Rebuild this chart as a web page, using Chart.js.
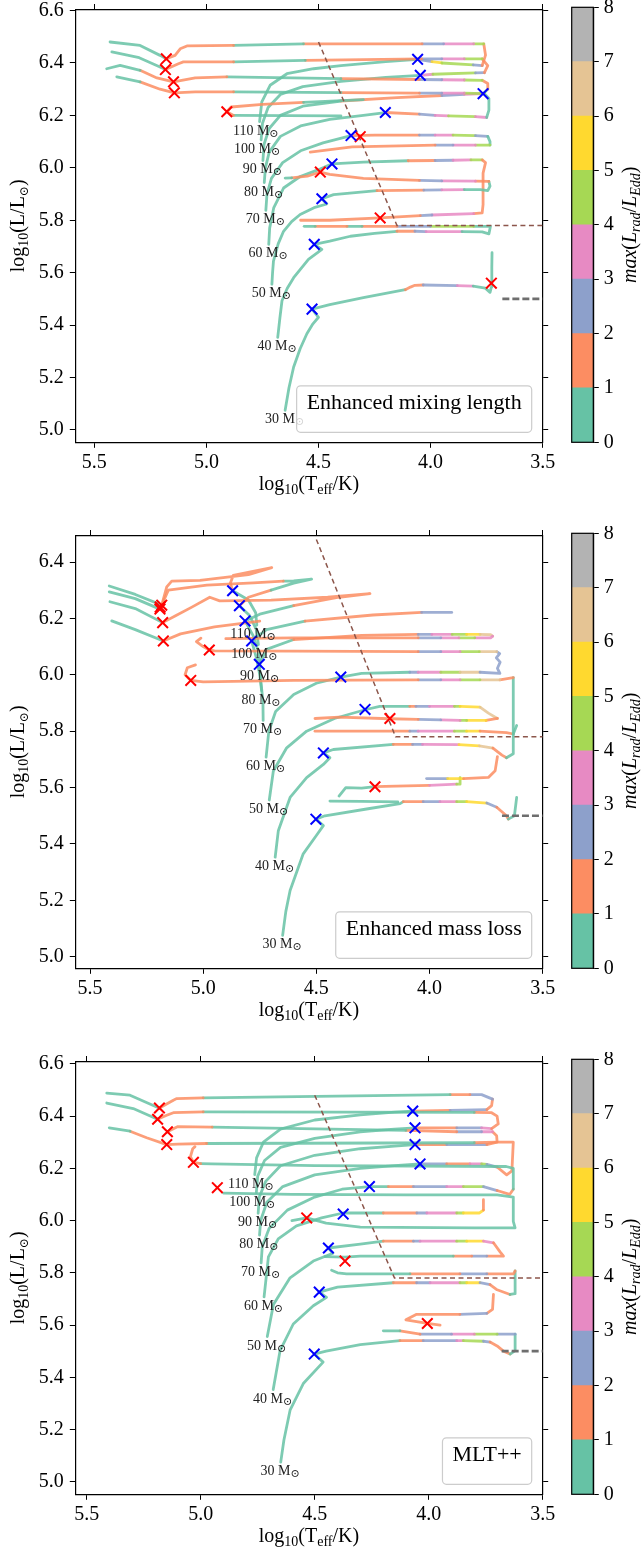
<!DOCTYPE html>
<html>
<head>
<meta charset="utf-8">
<script src="https://cdn.jsdelivr.net/npm/chart.js@4.4.1/dist/chart.umd.min.js"></script>
<style>
  body { margin: 0; background: #fff; }
  #wrap { position: relative; width: 641px; height: 1555px; }
  canvas { position: absolute; }
</style>
</head>
<body>
<div id="wrap"></div>
<script>
"use strict";

// ---- data -------------------------------------------------------------
var masses = [30, 40, 50, 60, 70, 80, 90, 100, 110];
var xTicks = [5.5, 5.0, 4.5, 4.0, 3.5];
var yTicksA = [5.0, 5.2, 5.4, 5.6, 5.8, 6.0, 6.2, 6.4, 6.6];
var yTicksB = [5.0, 5.2, 5.4, 5.6, 5.8, 6.0, 6.2, 6.4];
var cbTicks = [0, 1, 2, 3, 4, 5, 6, 7, 8];

// Humphreys-Davidson limit and the end marker
var hdTeff = [4.5, 4.15, 3.5];
var hdL = [6.48, 5.78, 5.78];
var endTeff = [3.68, 3.5];
var endL = [5.5, 5.5];

// tracks: [log Teff, log L, colour band of next segment], null = gap
// -- enhanced mixing length
var mix30 = [[4.649,5.075,0],[4.632,5.16,0],[4.611,5.24,0],[4.582,5.31,0],[4.552,5.367,0],[4.525,5.405,0],[4.5,5.43,0],[4.529,5.461,0],
  [4.45,5.478,0],[4.3,5.505,0],[4.113,5.535,1],[4.09,5.545,1],[4.07,5.552,1],[4.033,5.553,2],[3.881,5.551,3],[3.81,5.549,0],
  [3.756,5.541,0],[3.735,5.525,0],[3.729,5.545,0],[3.727,5.62,0],[3.726,5.676,0]];
var mix40 = [[4.682,5.353,0],[4.672,5.43,0],[4.663,5.493,0],[4.64,5.54,0],[4.611,5.581,0],[4.545,5.651,0],[4.485,5.689,0],[4.519,5.708,0],
  [4.45,5.72,0],[4.358,5.739,0],[4.25,5.75,0],[4.15,5.758,1],[4.07,5.758,2],[4.02,5.757,3],[3.86,5.757,0],[3.77,5.756,0],
  [3.74,5.748,0],[3.733,5.777,0],[3.808,5.777,4],[4.001,5.777,2],[4.15,5.777,1],[4.306,5.777,0],[4.373,5.777,1],[4.515,5.777,0],[4.564,5.777,0]];
var mix50 = [[4.708,5.556,0],[4.705,5.6,0],[4.701,5.644,0],[4.68,5.71,0],[4.656,5.758,0],[4.62,5.795,0],[4.582,5.822,0],[4.52,5.848,0],[4.463,5.862,0],[4.485,5.882,0],
  [4.433,5.898,0],[4.239,5.913,1],[4.03,5.915,2],[3.95,5.916,3],[3.85,5.917,0],[3.778,5.917,0],[3.745,5.913,0],[3.735,5.93,0],[3.74,5.948,1],
  [3.8,5.949,3],[3.95,5.95,2],[4.05,5.952,1],[4.3,5.96,1],[4.45,5.975,1],[4.492,5.984,1],[4.55,5.968,1],[4.62,5.962,0],[4.649,5.961,0]];
var mix60 = [[4.722,5.708,0],[4.718,5.77,0],[4.7,5.847,0],[4.656,5.923,0],[4.582,5.967,0],[4.5,5.993,0],[4.44,6.015,0],
  [4.3,6.022,0],[4.1,6.027,1],[3.98,6.028,2],[3.9,6.029,3],[3.82,6.03,4],[3.77,6.03,1],[3.755,6.02,1],[3.766,5.98,1],[3.766,5.86,1],[3.77,5.828,1],
  [3.808,5.825,3],[3.994,5.82,2],[4.046,5.818,1],[4.225,5.809,1],[4.45,5.8,1],[4.58,5.8,0]];
var mix70 = [[4.735,5.838,0],[4.73,5.9,0],[4.71,5.96,0],[4.66,6.02,0],[4.58,6.065,0],[4.48,6.095,0],[4.355,6.123,1],
  [4.25,6.125,1],[4.05,6.125,2],[3.98,6.125,3],[3.9,6.125,4],[3.8,6.123,2],[3.745,6.12,0],[3.735,6.1,0],[3.735,6.087,4],
  [3.8,6.087,3],[3.9,6.087,2],[3.98,6.087,1],[4.35,6.08,1],[4.537,6.06,1],
  null,
  [4.4,6.198,0],[4.879,6.2,1],[4.909,6.214,1],[4.89,6.232,1],[4.75,6.242,1],[4.567,6.25,0],[4.3,6.26,0]];
var mix80 = [[4.742,5.944,0],[4.737,6.0,0],[4.72,6.06,0],[4.67,6.12,0],[4.58,6.16,0],[4.45,6.185,0],[4.3,6.2,0],[4.202,6.211,1],
  [4.05,6.205,2],[3.98,6.2,3],[3.92,6.198,4],[3.8,6.195,3],[3.75,6.192,0],[3.74,6.22,0],[3.74,6.265,0],[3.76,6.283,4],
  [3.85,6.285,3],[3.95,6.285,2],[4.05,6.285,1],[4.4,6.287,0],[4.879,6.29,1],[5.05,6.29,1],[5.143,6.286,1],[5.207,6.3,1],[5.296,6.328,0],[5.4,6.347,0]];
var mix90 = [[4.748,6.028,0],[4.743,6.09,0],[4.72,6.15,0],[4.67,6.2,0],[4.57,6.235,0],[4.4,6.255,1],[4.15,6.268,1],[3.95,6.276,2],[3.85,6.28,3],[3.766,6.283,0],
  [3.745,6.3,1],[3.745,6.322,1],[3.77,6.334,4],[3.85,6.335,3],[3.95,6.336,2],[4.05,6.337,1],[4.4,6.34,0],[4.909,6.347,1],[5.05,6.343,1],[5.147,6.328,1],[5.221,6.343,1],[5.296,6.372,0],[5.385,6.391,0],[5.445,6.378,0]];
var mix100 = [[4.756,6.107,0],[4.75,6.17,0],[4.725,6.23,0],[4.67,6.28,0],[4.57,6.31,0],[4.4,6.33,0],[4.2,6.345,0],[4.046,6.353,3],
  [3.99,6.357,4],[3.8,6.362,2],[3.76,6.363,1],[3.745,6.39,1],[3.77,6.416,4],[3.85,6.416,3],[3.95,6.416,2],[4.04,6.416,1],[4.559,6.41,0],[4.879,6.404,1],[5.103,6.404,1],[5.125,6.397,1],[5.183,6.375,0],[5.207,6.385,0],[5.3,6.42,0],[5.422,6.442,0]];
var mix110 = [[4.763,6.176,0],[4.753,6.252,0],[4.716,6.315,0],[4.641,6.359,0],[4.522,6.378,0],[4.4,6.39,0],[4.2,6.405,0],[4.058,6.414,2],
  [3.994,6.405,5],[3.95,6.4,4],[3.81,6.393,2],[3.77,6.39,1],[3.755,6.43,1],[3.763,6.473,4],[3.808,6.473,3],[3.942,6.473,2],[4.038,6.473,1],[4.567,6.473,0],[4.879,6.467,1],[5.087,6.465,1],[5.117,6.454,1],[5.14,6.429,1],[5.179,6.416,0],[5.207,6.429,0],[5.296,6.467,0],[5.43,6.48,0]];
var mixBlueT = [4.529, 4.519, 4.485, 4.440, 4.355, 4.202, 3.766, 4.046, 4.058];
var mixBlueL = [5.461, 5.708, 5.882, 6.015, 6.123, 6.211, 6.283, 6.353, 6.414];
var mixRedT = [3.729, 4.225, 4.492, 4.314, 4.909, 5.143, 5.147, 5.183, 5.179];
var mixRedL = [5.56, 5.809, 5.984, 6.119, 6.214, 6.286, 6.328, 6.375, 6.416];

// -- enhanced mass loss
var loss30 = [[4.649,5.076,0],[4.635,5.16,0],[4.616,5.235,0],[4.558,5.365,0],[4.5,5.43,0],[4.469,5.465,0],[4.502,5.488,0],
  [4.462,5.5,0],[4.278,5.524,0],[4.13,5.543,0],[4.116,5.55,1],[4.028,5.55,2],[3.954,5.55,3],[3.88,5.55,4],[3.836,5.55,5],[3.747,5.545,2],[3.703,5.53,1],[3.66,5.5,1],[3.652,5.488,0],[3.625,5.5,0],[3.615,5.565,0],
  null,
  [4.44,5.552,0],[4.3,5.551,0],[4.14,5.549,0],
  null,
  [4.4,5.57,0],[4.37,5.6,0],[4.3,5.598,0],[4.241,5.603,1],[4.1,5.606,1],[4.0,5.608,3],[3.88,5.612,4],[3.865,5.612,4],[3.865,5.635,2],
  null,
  [4.013,5.632,2],[3.92,5.632,5],[3.85,5.632,1],[3.74,5.636,1],[3.71,5.66,1],[3.7,5.71,1]];
var loss40 = [[4.682,5.353,0],[4.668,5.447,0],[4.616,5.565,0],[4.543,5.635,0],[4.469,5.682,0],[4.44,5.706,0],[4.469,5.723,0],
  [4.425,5.735,0],[4.16,5.753,1],[4.075,5.753,2],[4.031,5.753,3],[3.87,5.752,5],[3.78,5.748,6],[3.72,5.74,1],[3.68,5.715,1],[3.66,5.706,0],[3.63,5.72,0],[3.63,5.99,1],
  [3.689,5.982,6],[3.777,5.982,4],[3.865,5.982,3],[3.95,5.982,2],[4.05,5.982,1],[4.6,5.98,1],[5.0,5.975,1],[5.055,5.98,1],[5.08,6.0,1],[5.07,6.025,1],[5.034,6.035,1]];
var loss50 = [[4.708,5.556,0],[4.69,5.659,0],[4.631,5.741,0],[4.543,5.8,0],[4.42,5.845,0],[4.285,5.876,0],
  [4.22,5.888,0],[4.087,5.888,1],[4.06,5.888,2],[4.0,5.888,3],[3.89,5.888,4],[3.865,5.888,5],[3.777,5.885,6],[3.74,5.864,6],[3.7,5.845,1],
  [3.75,5.838,5],[3.836,5.838,4],[3.865,5.838,3],[3.95,5.84,2],[4.05,5.842,1],[4.175,5.844,1],[4.4,5.85,1],[4.506,5.845,1],
  null,
  [4.506,5.8,1],[4.087,5.8,2],[4.05,5.8,3],[3.89,5.8,4],[3.836,5.8,5],[3.777,5.8,1],[3.66,5.795,1],[3.63,5.79,0],[3.615,5.82,0]];
var loss60 = [[4.722,5.708,0],[4.71,5.8,0],[4.68,5.87,0],[4.6,5.93,0],[4.5,5.97,0],[4.392,5.992,0],
  [4.3,6.005,0],[4.087,6.009,2],[4.05,6.009,3],[3.95,6.009,4],[3.865,6.009,6],[3.777,6.009,2],[3.689,6.005,2],[3.7,6.023,2],[3.688,6.045,2],[3.705,6.06,2],[3.69,6.075,2],[3.703,6.082,6],
  [3.78,6.082,4],[3.865,6.082,3],[3.95,6.082,2],[4.05,6.082,1],[4.6,6.084,1],[4.95,6.085,1],[4.973,6.088,1],[5.0,6.1,1],[5.03,6.118,1],[5.01,6.13,1]];
var loss70 = [[4.735,5.838,0],[4.736,5.906,0],[4.745,5.976,0],[4.752,6.037,0],
  [4.72,6.09,0],[4.6,6.125,1],[4.3,6.14,1],[4.05,6.143,2],[3.99,6.143,3],[3.9,6.143,4],[3.836,6.143,5],[3.777,6.143,6],[3.73,6.142,6],[3.721,6.137,3],
  [3.73,6.131,3],[3.8,6.131,4],[3.87,6.131,3],[3.95,6.131,2],[4.05,6.131,1],[4.6,6.131,1],[4.9,6.128,1]];
var loss80 = [[4.742,5.944,0],[4.75,6.0,0],[4.765,6.06,0],[4.786,6.12,0],
  [4.72,6.16,0],[4.55,6.19,1],[4.25,6.212,1],[4.035,6.221,2],[3.902,6.221,2],
  null,
  [4.75,6.19,1],[4.95,6.17,1],[5.1,6.145,1],[5.176,6.12,0],[5.3,6.16,0],[5.404,6.191,0]];
var loss90 = [[4.748,6.028,0],[4.755,6.08,0],[4.78,6.14,0],[4.815,6.191,0],
  [4.75,6.215,0],[4.6,6.245,1],[4.4,6.275,1],[4.263,6.288,1],[4.45,6.275,1],[4.7,6.265,1],[4.927,6.262,1],[4.971,6.275,1],[5.05,6.24,1],[5.12,6.21,1],[5.179,6.185,0],[5.3,6.235,0],[5.412,6.259,0]];
var loss100 = [[4.756,6.107,0],[4.765,6.16,0],[4.795,6.21,0],[4.84,6.245,1],[4.8,6.275,1],[4.7,6.3,0],[4.6,6.325,0],[4.521,6.339,0],[4.6,6.333,0],[4.646,6.332,1],[4.778,6.326,1],[4.984,6.318,1],[5.154,6.3,1],[5.191,6.233,0],[5.3,6.27,0],[5.415,6.294,0]];
var loss110 = [[4.763,6.176,0],[4.768,6.22,0],[4.8,6.265,0],[4.87,6.298,1],[4.88,6.325,1],[4.867,6.353,1],[4.78,6.367,1],[4.697,6.38,1],[4.8,6.355,1],[5.014,6.335,1],[5.139,6.332,1],[5.161,6.312,1],[5.183,6.247,0],[5.3,6.285,0],[5.415,6.315,0]];
var lossBlueT = [4.502, 4.469, 4.285, 4.392, 4.752, 4.786, 4.815, 4.840, 4.870];
var lossBlueL = [5.488, 5.723, 5.877, 5.992, 6.037, 6.120, 6.191, 6.245, 6.298];
var lossRedT = [4.241, 4.175, 5.055, 4.973, 5.176, 5.179, 5.191, 5.183, 5.19];
var lossRedL = [5.603, 5.845, 5.98, 6.088, 6.12, 6.185, 6.233, 6.247, 6.24];

// -- MLT++
var mlt30 = [[4.649,5.075,0],[4.635,5.16,0],[4.608,5.274,0],[4.55,5.376,0],[4.463,5.458,0],[4.502,5.489,0],
  [4.45,5.5,0],[4.3,5.525,0],[4.126,5.54,1],[4.024,5.54,2],[3.877,5.54,3],[3.848,5.54,4],[3.76,5.538,2],[3.731,5.535,1],[3.7,5.52,1],[3.672,5.5,1],[3.643,5.489,0],[3.621,5.502,0],[3.621,5.565,2],
  [3.7,5.565,4],[3.8,5.565,3],[3.9,5.565,2],[4.038,5.565,1],[4.126,5.578,0],[4.199,5.578,0],
  null,
  [3.716,5.717,1],[3.72,5.66,1],[3.745,5.645,2],[3.863,5.641,1],[4.053,5.641,1],[4.1,5.62,1],[4.006,5.606,1],[3.95,5.6,1]];
var mlt40 = [[4.682,5.353,0],[4.652,5.502,0],[4.594,5.604,0],[4.506,5.674,0],[4.448,5.706,0],[4.48,5.726,0],
  [4.4,5.745,0],[4.155,5.762,1],[4.053,5.762,2],[3.994,5.762,3],[3.863,5.762,4],[3.833,5.762,5],[3.775,5.762,2],[3.731,5.755,1],[3.7,5.735,1],[3.643,5.717,0],[3.621,5.72,0],[3.621,5.807,1],
  [3.628,5.796,1],[3.745,5.796,2],[3.863,5.796,1],[4.082,5.796,0],[4.36,5.796,0],[4.4,5.8,0],[4.426,5.81,0]];
var mlt50 = [[4.708,5.556,0],[4.681,5.679,0],[4.608,5.781,0],[4.506,5.845,0],[4.42,5.875,0],[4.44,5.895,0],
  [4.3,5.91,0],[4.199,5.921,1],[4.067,5.921,2],[4.038,5.921,3],[3.877,5.921,4],[3.833,5.921,5],[3.76,5.921,3],[3.716,5.915,1],[3.687,5.88,1],[3.672,5.864,1],
  [3.745,5.864,2],[3.811,5.864,1],[3.892,5.864,0],[4.3,5.864,0],[4.367,5.86,0],[4.455,5.862,0]];
var mlt60 = [[4.722,5.708,0],[4.703,5.861,0],[4.66,5.93,0],[4.58,5.98,0],[4.47,6.01,0],[4.375,6.029,0],
  [4.25,6.029,0],[4.199,6.029,1],[4.052,6.029,2],[4.008,6.029,3],[3.877,6.029,4],[3.848,6.029,5],[3.777,6.029,5],[3.76,6.04,1],[3.76,6.08,1],
  null,
  [4.9,6.105,0],[4.6,6.1,0],[4.1,6.098,0],[3.7,6.098,0],[3.629,6.09,0],[3.629,5.997,0],[3.621,5.972,0],[3.8,5.972,0],[4.3,5.975,0],[4.45,5.99,0],[4.535,6.01,0],[4.6,6.0,0]];
var mlt70 = [[4.735,5.838,0],[4.73,5.9,0],[4.7,5.97,0],[4.62,6.04,0],[4.5,6.09,0],[4.38,6.12,0],[4.26,6.13,0],
  [4.177,6.13,1],[4.067,6.13,2],[3.921,6.13,3],[3.848,6.13,4],[3.76,6.13,2],[3.7,6.115,1],[3.645,6.1,1],[3.629,6.12,0],[3.629,6.2,0],[3.66,6.207,0],
  [4.5,6.21,0],[4.95,6.217,0],[5.0,6.218,1],[5.032,6.223,1],[5.045,6.245,1],[5.035,6.275,1],[5.025,6.283,1]];
var mlt80 = [[4.742,5.944,0],[4.737,6.0,0],[4.71,6.07,0],[4.64,6.13,0],[4.5,6.175,0],[4.3,6.2,0],[4.15,6.21,0],[4.038,6.217,2],
  [3.921,6.217,1],[3.819,6.217,3],[3.768,6.217,4],[3.745,6.215,2],[3.7,6.205,1],[3.658,6.175,1],[3.635,6.19,1],[3.629,6.3,1],[3.7,6.3,1],
  [3.8,6.298,0],[4.974,6.295,1],[5.1,6.293,1],[5.149,6.291,1],[5.237,6.317,1],[5.31,6.342,0],[5.401,6.355,0]];
var mlt90 = [[4.748,6.028,0],[4.743,6.09,0],[4.715,6.15,0],[4.65,6.21,0],[4.5,6.25,0],[4.3,6.275,0],[4.15,6.285,0],[4.06,6.291,1],
  [3.921,6.291,2],[3.745,6.291,1],[3.7,6.3,1],[3.702,6.325,1],[3.72,6.34,3],[3.768,6.34,2],[3.877,6.34,1],[4.1,6.345,0],[4.95,6.358,1],[5.1,6.36,1],[5.146,6.34,1]];
var mlt100 = [[4.756,6.107,0],[4.75,6.17,0],[4.72,6.23,0],[4.65,6.28,0],[4.5,6.315,0],[4.3,6.34,0],[4.15,6.35,0],[4.06,6.355,1],
  [3.877,6.355,2],[3.768,6.355,3],[3.724,6.352,1],[3.695,6.37,1],[3.7,6.4,1],[3.724,6.413,1],[3.8,6.414,0],[4.989,6.416,1],[5.12,6.413,1],[5.149,6.403,1],[5.189,6.388,0],[5.296,6.429,0],[5.412,6.45,0]];
var mlt110 = [[4.763,6.176,0],[4.755,6.24,0],[4.725,6.3,0],[4.65,6.35,0],[4.5,6.385,0],[4.3,6.405,0],[4.15,6.415,0],[4.07,6.419,1],
  [3.906,6.422,2],[3.745,6.425,1],[3.724,6.44,1],[3.72,6.465,2],[3.768,6.482,2],[3.819,6.482,1],[3.906,6.482,0],[4.989,6.47,1],[5.105,6.467,1],[5.12,6.461,1],[5.181,6.431,0],[5.193,6.435,0],[5.31,6.48,0],[5.412,6.488,0]];
var mltBlueT = [4.502, 4.48, 4.44, 4.375, 4.26, 4.038, 4.06, 4.06, 4.07];
var mltBlueL = [5.489, 5.726, 5.895, 6.025, 6.13, 6.217, 6.291, 6.355, 6.419];
var mltRedT = [4.006, 4.367, 4.535, 4.927, 5.032, 5.149, 5.146, 5.189, 5.181];
var mltRedL = [5.606, 5.845, 6.01, 6.126, 6.223, 6.291, 6.34, 6.388, 6.431];

// ---- style ------------------------------------------------------------
var SET2 = ['#66c2a5', '#fc8d62', '#8da0cb', '#e78ac3', '#a6d854', '#ffd92f', '#e5c494', '#b3b3b3'];
var FF = "'Liberation Serif', 'DejaVu Serif', serif";

function fade(hex, a) {
    var n = parseInt(hex.slice(1), 16);
    return 'rgba(' + (n >> 16) + ',' + ((n >> 8) & 255) + ',' + (n & 255) + ',' + a + ')';
}

function rich(ctx, parts, x, y, align) {
    var w = 0;
    parts.forEach(function (p) {
        ctx.font = (p[2] ? 'italic ' : '') + p[1] + 'px ' + FF;
        p.w = ctx.measureText(p[0]).width;
        w += p.w;
    });
    var cx = align === 'center' ? x - w / 2 : (align === 'right' ? x - w : x);
    ctx.textAlign = 'left';
    ctx.textBaseline = 'alphabetic';
    parts.forEach(function (p) {
        ctx.font = (p[2] ? 'italic ' : '') + p[1] + 'px ' + FF;
        ctx.fillText(p[0], cx, y + (p[3] || 0));
        cx += p.w;
    });
}

function axis(pos, min, max, reverse, ticks, labels, size) {
    var horiz = pos === 'top' || pos === 'bottom';
    return {
        type: 'linear', position: pos, min: min, max: max, reverse: reverse,
        afterBuildTicks: function (s) { s.ticks = ticks.map(function (v) { return {value: v}; }); },
        afterFit: function (s) {
            if (horiz) { s.height = size; } else { s.width = size; }
            s.paddingLeft = 0; s.paddingRight = 0; s.paddingTop = 0; s.paddingBottom = 0;
        },
        ticks: {
            display: labels, color: '#000', font: {family: FF, size: 20},
            padding: horiz ? 3 : 6,
            callback: function (v) { return Number(v).toFixed(1); }
        },
        grid: {drawOnChartArea: false, drawTicks: true, tickLength: 5.5, color: '#000', lineWidth: 1},
        border: {display: true, color: '#000', width: 1.2}
    };
}

var panels = [
    {tracks: [mix30, mix40, mix50, mix60, mix70, mix80, mix90, mix100, mix110],
     blueT: mixBlueT, blueL: mixBlueL, redT: mixRedT, redL: mixRedL,
     xMax: 5.585, yMin: 4.953, yMax: 6.604, yTicks: yTicksA, text: 'Enhanced mixing length', h: 526},
    {tracks: [loss30, loss40, loss50, loss60, loss70, loss80, loss90, loss100, loss110],
     blueT: lossBlueT, blueL: lossBlueL, redT: lossRedT, redL: lossRedL,
     xMax: 5.565, yMin: 4.959, yMax: 6.494, yTicks: yTicksB, text: 'Enhanced mass loss', h: 526},
    {tracks: [mlt30, mlt40, mlt50, mlt60, mlt70, mlt80, mlt90, mlt100, mlt110],
     blueT: mltBlueT, blueL: mltBlueL, redT: mltRedT, redL: mltRedL,
     xMax: 5.55, yMin: 4.952, yMax: 6.609, yTicks: yTicksA, text: 'MLT++', h: 503}
];

var wrap = document.getElementById('wrap');

function makeCanvas(left, top, w, h) {
    var c = document.createElement('canvas');
    c.width = w; c.height = h;
    c.style.left = left + 'px'; c.style.top = top + 'px';
    c.style.width = w + 'px'; c.style.height = h + 'px';
    wrap.appendChild(c);
    return c;
}

// mass labels, legend box and axis titles
var decor = {
    id: 'decor',
    afterDatasetsDraw: function (chart) {
        var ctx = chart.ctx, a = chart.chartArea, cfg = chart.options.plugins.decor;
        var xs = chart.scales.x, ys = chart.scales.y;
        ctx.save();
        ctx.fillStyle = '#222';
        cfg.tracks.forEach(function (t, i) {
            var px = xs.getPixelForValue(t[0][0]), py = ys.getPixelForValue(t[0][1]);
            rich(ctx, [[masses[i] + ' M', 14], ['\u2299', 11, false, 2]], px + 19, py + 13, 'right');
        });
        // legend box
        ctx.font = '22px ' + FF;
        var tw = ctx.measureText(cfg.text).width;
        var bw = tw + 20, bh = 46.5;
        var bx = a.right - 11 - bw, by = a.bottom - 10 - bh;
        ctx.beginPath();
        ctx.roundRect(bx, by, bw, bh, 4);
        ctx.fillStyle = 'rgba(255,255,255,0.8)';
        ctx.fill();
        ctx.strokeStyle = '#cccccc';
        ctx.lineWidth = 1.2;
        ctx.stroke();
        ctx.fillStyle = '#000';
        ctx.textAlign = 'left';
        ctx.textBaseline = 'alphabetic';
        ctx.fillText(cfg.text, bx + 10, by + 23.5);
        ctx.restore();
    },
    afterDraw: function (chart) {
        var ctx = chart.ctx, a = chart.chartArea;
        ctx.save();
        ctx.fillStyle = '#000';
        rich(ctx, [['log', 20], ['10', 14, false, 4], ['(T', 20], ['eff', 14, false, 4], ['/K)', 20]],
            (a.left + a.right) / 2, a.bottom + 47.5, 'center');
        ctx.translate(24, (a.top + a.bottom) / 2);
        ctx.rotate(-Math.PI / 2);
        rich(ctx, [['log', 20], ['10', 14, false, 4], ['(L/L', 20], ['\u2299', 12, false, 4], [')', 20]], 0, 0, 'center');
        ctx.restore();
    }
};

var cbDecor = {
    id: 'cbDecor',
    afterDraw: function (chart) {
        var ctx = chart.ctx, a = chart.chartArea;
        ctx.save();
        ctx.strokeStyle = '#000';
        ctx.lineWidth = 1.2;
        ctx.strokeRect(a.left, a.top, a.right - a.left, a.bottom - a.top);
        ctx.fillStyle = '#000';
        ctx.translate(95, (a.top + a.bottom) / 2);
        ctx.rotate(-Math.PI / 2);
        rich(ctx, [['max', 20, true], ['(', 20], ['L', 20, true], ['rad', 14, true, 4], ['/', 20],
            ['L', 20, true], ['Edd', 14, true, 4], [')', 20]], 0, 0, 'center');
        ctx.restore();
    }
};

panels.forEach(function (p, k) {
    var top = 526 * k, H = p.h;
    var bottomGap = H - 442.3;

    var datasets = [];
    datasets.push({
        data: p.blueT.map(function (t, i) { return {x: t, y: p.blueL[i]}; }),
        pointStyle: 'crossRot', pointRadius: 7.5, pointBorderWidth: 2, borderColor: '#0000ff',
        backgroundColor: '#0000ff', showLine: false, order: 0
    });
    datasets.push({
        data: p.redT.map(function (t, i) { return {x: t, y: p.redL[i]}; }),
        pointStyle: 'crossRot', pointRadius: 7.5, pointBorderWidth: 2, borderColor: '#ff0000',
        backgroundColor: '#ff0000', showLine: false, order: 0
    });
    datasets.push({
        data: hdTeff.map(function (t, i) { return {x: t, y: hdL[i]}; }),
        showLine: true, pointRadius: 0, borderColor: '#8c564b', borderWidth: 1.5,
        borderDash: [5, 3.5], order: 1
    });
    datasets.push({
        data: endTeff.map(function (t, i) { return {x: t, y: endL[i]}; }),
        showLine: true, pointRadius: 0, borderColor: '#6e6e6e', borderWidth: 2.6,
        borderDash: [7, 3], order: 1
    });
    p.tracks.forEach(function (tr) {
        datasets.push({
            data: tr.map(function (q) { return q ? {x: q[0], y: q[1]} : {x: NaN, y: NaN}; }),
            showLine: true, pointRadius: 0, borderWidth: 2.8, spanGaps: false,
            borderColor: fade(SET2[0], 0.85), borderJoinStyle: 'round', borderCapStyle: 'round',
            segment: {
                borderColor: function (c) {
                    var q = tr[c.p0DataIndex];
                    return fade(SET2[q ? q[2] : 0], 0.85);
                }
            },
            order: 2
        });
    });

    var main = makeCanvas(0, top, 641, H);
    new Chart(main, {
        type: 'scatter',
        data: {datasets: datasets},
        options: {
            responsive: false, animation: false, devicePixelRatio: 1,
            layout: {padding: 0},
            plugins: {legend: {display: false}, tooltip: {enabled: false},
                decor: {tracks: p.tracks, text: p.text}},
            scales: {
                x: axis('bottom', 3.5, p.xMax, true, xTicks, true, bottomGap),
                x2: axis('top', 3.5, p.xMax, true, xTicks, false, 7.3),
                y: axis('left', p.yMin, p.yMax, false, p.yTicks, true, 75.3),
                y2: axis('right', p.yMin, p.yMax, false, p.yTicks, false, 98.3)
            }
        },
        plugins: [decor]
    });

    var cb = makeCanvas(541, top, 100, H);
    new Chart(cb, {
        type: 'bar',
        data: {
            labels: [''],
            datasets: SET2.map(function (c) {
                return {data: [1], backgroundColor: c, borderWidth: 0, barPercentage: 1, categoryPercentage: 1};
            })
        },
        options: {
            responsive: false, animation: false, devicePixelRatio: 1,
            layout: {padding: {left: 30.7, top: 7.3, bottom: bottomGap, right: 0}},
            plugins: {legend: {display: false}, tooltip: {enabled: false}},
            scales: {
                x: {display: false, stacked: true},
                y: {
                    position: 'right', stacked: true, min: 0, max: 8,
                    afterBuildTicks: function (s) { s.ticks = cbTicks.map(function (v) { return {value: v}; }); },
                    afterFit: function (s) {
                        s.width = 47.7;
                        s.paddingLeft = 0; s.paddingRight = 0; s.paddingTop = 0; s.paddingBottom = 0;
                    },
                    ticks: {color: '#000', font: {family: FF, size: 20}, padding: 5},
                    grid: {drawOnChartArea: false, drawTicks: true, tickLength: 5.5, color: '#000'},
                    border: {display: true, color: '#000', width: 1.2}
                }
            }
        },
        plugins: [cbDecor]
    });
});
</script>
</body>
</html>
